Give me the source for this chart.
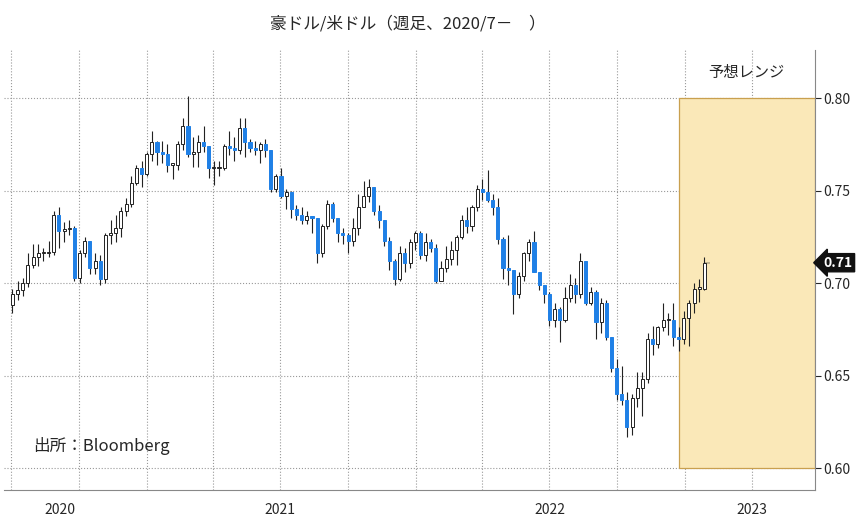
import numpy as np, pandas as pd, matplotlib
matplotlib.use("Agg")
import matplotlib.pyplot as plt, matplotlib.dates as mdates, seaborn as sns
from matplotlib.patches import Rectangle

first_open = 0.688
closes = [0.694,0.696,0.700,0.710,0.714,0.716,0.716,0.717,0.737,0.728,0.729,0.730,0.703,0.716,0.723,0.708,0.712,0.702,0.726,0.727,0.730,0.739,0.743,0.754,0.762,0.759,0.770,
 0.776,0.771,0.770,0.764,0.764,0.775,0.785,0.770,0.771,0.776,0.774,0.762,0.762,0.762,0.774,0.773,0.772,0.784,0.776,0.773,0.772,0.775,0.772,0.751,0.758,0.747,0.749,0.740,0.737,0.734,0.736,0.735,0.716,0.731,0.743,0.735,0.727,0.726,0.723,0.730,0.741,0.747,0.752,0.739,0.734,0.723,0.712,0.702,0.716,0.711,0.722,0.727,
 0.715,0.722,0.719,0.701,0.708,0.713,0.718,0.725,0.734,0.731,0.741,0.751,0.749,0.745,0.741,0.724,0.708,0.707,0.694,0.704,0.716,0.722,0.706,0.699,0.694,0.680,0.686,0.680,0.692,0.699,0.694,0.712,0.689,0.695,0.679,0.689,0.671,0.654,0.640,0.637,0.622,0.638,0.643,0.648,0.670,0.667,0.676,0.680,0.680,0.671,0.670,0.681,
 0.689,0.697,0.697,0.711]
highs = [0.697,0.701,0.703,0.716,0.721,0.721,0.719,0.723,0.739,0.741,0.733,0.734,0.731,0.718,0.725,0.716,0.716,0.715,0.727,0.734,0.737,0.741,0.746,0.758,0.764,0.766,0.771,
 0.782,0.777,0.777,0.775,0.765,0.777,0.789,0.801,0.779,0.780,0.785,0.764,0.766,0.766,0.775,0.782,0.779,0.789,0.789,0.778,0.777,0.776,0.778,0.772,0.759,0.762,0.751,0.750,0.742,0.741,0.739,0.736,0.732,0.732,0.745,0.744,0.735,0.730,0.727,0.735,0.748,0.755,0.756,0.750,0.742,0.734,0.725,0.713,0.720,0.719,0.724,0.728,
 0.728,0.727,0.724,0.721,0.712,0.720,0.723,0.726,0.737,0.741,0.742,0.753,0.756,0.761,0.748,0.746,0.725,0.726,0.705,0.706,0.717,0.724,0.728,0.706,0.698,0.695,0.689,0.687,0.698,0.705,0.703,0.716,0.711,0.698,0.696,0.692,0.691,0.670,0.659,0.655,0.641,0.640,0.652,0.652,0.673,0.677,0.677,0.689,0.684,0.689,0.676,0.685,
 0.691,0.700,0.702,0.714]
lows = [0.684,0.691,0.693,0.698,0.708,0.709,0.712,0.714,0.715,0.719,0.722,0.726,0.701,0.700,0.714,0.705,0.705,0.699,0.700,0.721,0.722,0.725,0.736,0.741,0.753,0.752,0.758,
 0.766,0.764,0.765,0.760,0.756,0.761,0.772,0.768,0.763,0.763,0.771,0.757,0.753,0.758,0.761,0.769,0.766,0.770,0.768,0.771,0.769,0.765,0.768,0.749,0.749,0.746,0.740,0.735,0.734,0.732,0.732,0.727,0.711,0.714,0.729,0.733,0.722,0.721,0.716,0.720,0.726,0.741,0.744,0.737,0.730,0.720,0.707,0.699,0.701,0.706,0.708,0.718,
 0.713,0.712,0.717,0.700,0.702,0.706,0.710,0.710,0.724,0.727,0.728,0.739,0.745,0.744,0.737,0.721,0.702,0.699,0.683,0.692,0.701,0.712,0.706,0.696,0.689,0.677,0.676,0.668,0.679,0.690,0.689,0.692,0.688,0.688,0.670,0.673,0.669,0.652,0.637,0.634,0.617,0.618,0.633,0.628,0.646,0.661,0.665,0.674,0.672,0.666,0.663,0.667,
 0.666,0.684,0.690,0.696]
year_labels = ["2020", "2021", "2022", "2023"]
range_low, range_high = 0.60, 0.80
last_label = "0.71"
assert len(closes) == len(highs) == len(lows), (len(closes), len(highs), len(lows))

n = len(closes)
dates = pd.date_range("2020-07-03", periods=n, freq="W-FRI")
df = pd.DataFrame({"date": dates, "close": closes, "high": highs, "low": lows})
df["open"] = [first_open] + closes[:-1]
df["up"] = df["close"] >= df["open"]

sns.set_style("white")
plt.rcParams["font.family"] = ["Noto Sans CJK JP", "DejaVu Sans"]
fig = plt.figure(figsize=(8.68, 5.26), dpi=100)
ax = fig.add_axes([0.005, 0.068, 0.934, 0.837])

x = mdates.date2num(df["date"])
bot = np.minimum(df["open"], df["close"]); top = np.maximum(df["open"], df["close"])
lo = np.minimum(df["low"], bot); hi = np.maximum(df["high"], top)
ax.vlines(x, lo, hi, color="#222222", lw=0.8, zorder=3)
colors = np.where(df["up"], "white", "#1f80e6")
edges = np.where(df["up"], "#222222", "#1f80e6")
ax.bar(x, np.maximum(top - bot, 0.0008), bottom=bot, width=4.2, color=colors,
       edgecolor=edges, linewidth=0.7, zorder=4)
sns.scatterplot(x=[x[-1] + 3], y=[closes[-1]], marker="_", color="#222222", s=20, ax=ax, zorder=5)

x0 = mdates.date2num(pd.Timestamp("2022-12-23")); x1 = mdates.date2num(pd.Timestamp("2023-06-26"))
ax.add_patch(Rectangle((x0, range_low), x1 - x0, range_high - range_low, facecolor="#fae8b8",
                       edgecolor="#c9a04f", lw=0.9, zorder=1))
ax.text((x0 + x1) / 2, 0.814, "予想レンジ", ha="center", va="center", fontsize=11)

ax.set_xlim(mdates.date2num(pd.Timestamp("2020-06-22")), x1)
ax.set_ylim(0.588, 0.826)
ax.yaxis.tick_right()
ax.set_yticks([0.60, 0.65, 0.70, 0.75, 0.80])
ax.set_yticklabels(["0.60", "0.65", "0.70", "0.75", "0.80"], fontsize=10)
ax.tick_params(axis="y", length=4, pad=2)
ax.grid(True, axis="y", ls=":", color="#999999", lw=0.8, zorder=0)
for q in pd.date_range("2020-07-01", "2023-07-01", freq="QS"):
    ax.axvline(mdates.date2num(q), ls=":", color="#999999", lw=0.8, zorder=0)

ax.set_xticks([mdates.date2num(pd.Timestamp(f"{y}-01-01")) for y in (2021, 2022, 2023)])
ax.set_xticklabels([])
ax.tick_params(axis="x", length=22, color="#999999")
mids = [pd.Timestamp("2020-09-05"), pd.Timestamp("2021-07-01"), pd.Timestamp("2022-07-01"), pd.Timestamp("2023-04-01")]
ax.set_xticks([mdates.date2num(m) for m in mids], minor=True)
ax.set_xticklabels(year_labels, minor=True, fontsize=10)
ax.tick_params(axis="x", which="minor", length=0, pad=9)

for s in ["top", "left"]:
    ax.spines[s].set_visible(False)
ax.spines["bottom"].set_color("#888888"); ax.spines["right"].set_color("#888888")

ax.annotate(last_label, xy=(1.0, closes[-1]), xycoords=("axes fraction", "data"), xytext=(6, 0),
            textcoords="offset points", ha="left", va="center", fontsize=10, color="white",
            fontweight="bold", bbox=dict(boxstyle="larrow,pad=0.15", fc="#111111", ec="#111111"))
ax.text(0.035, 0.09, "出所：Bloomberg", transform=ax.transAxes, fontsize=12)
fig.text(0.47, 0.955, "豪ドル/米ドル（週足、2020/7－　）", ha="center", va="center", fontsize=12)
fig.savefig("out.png", dpi=100)
